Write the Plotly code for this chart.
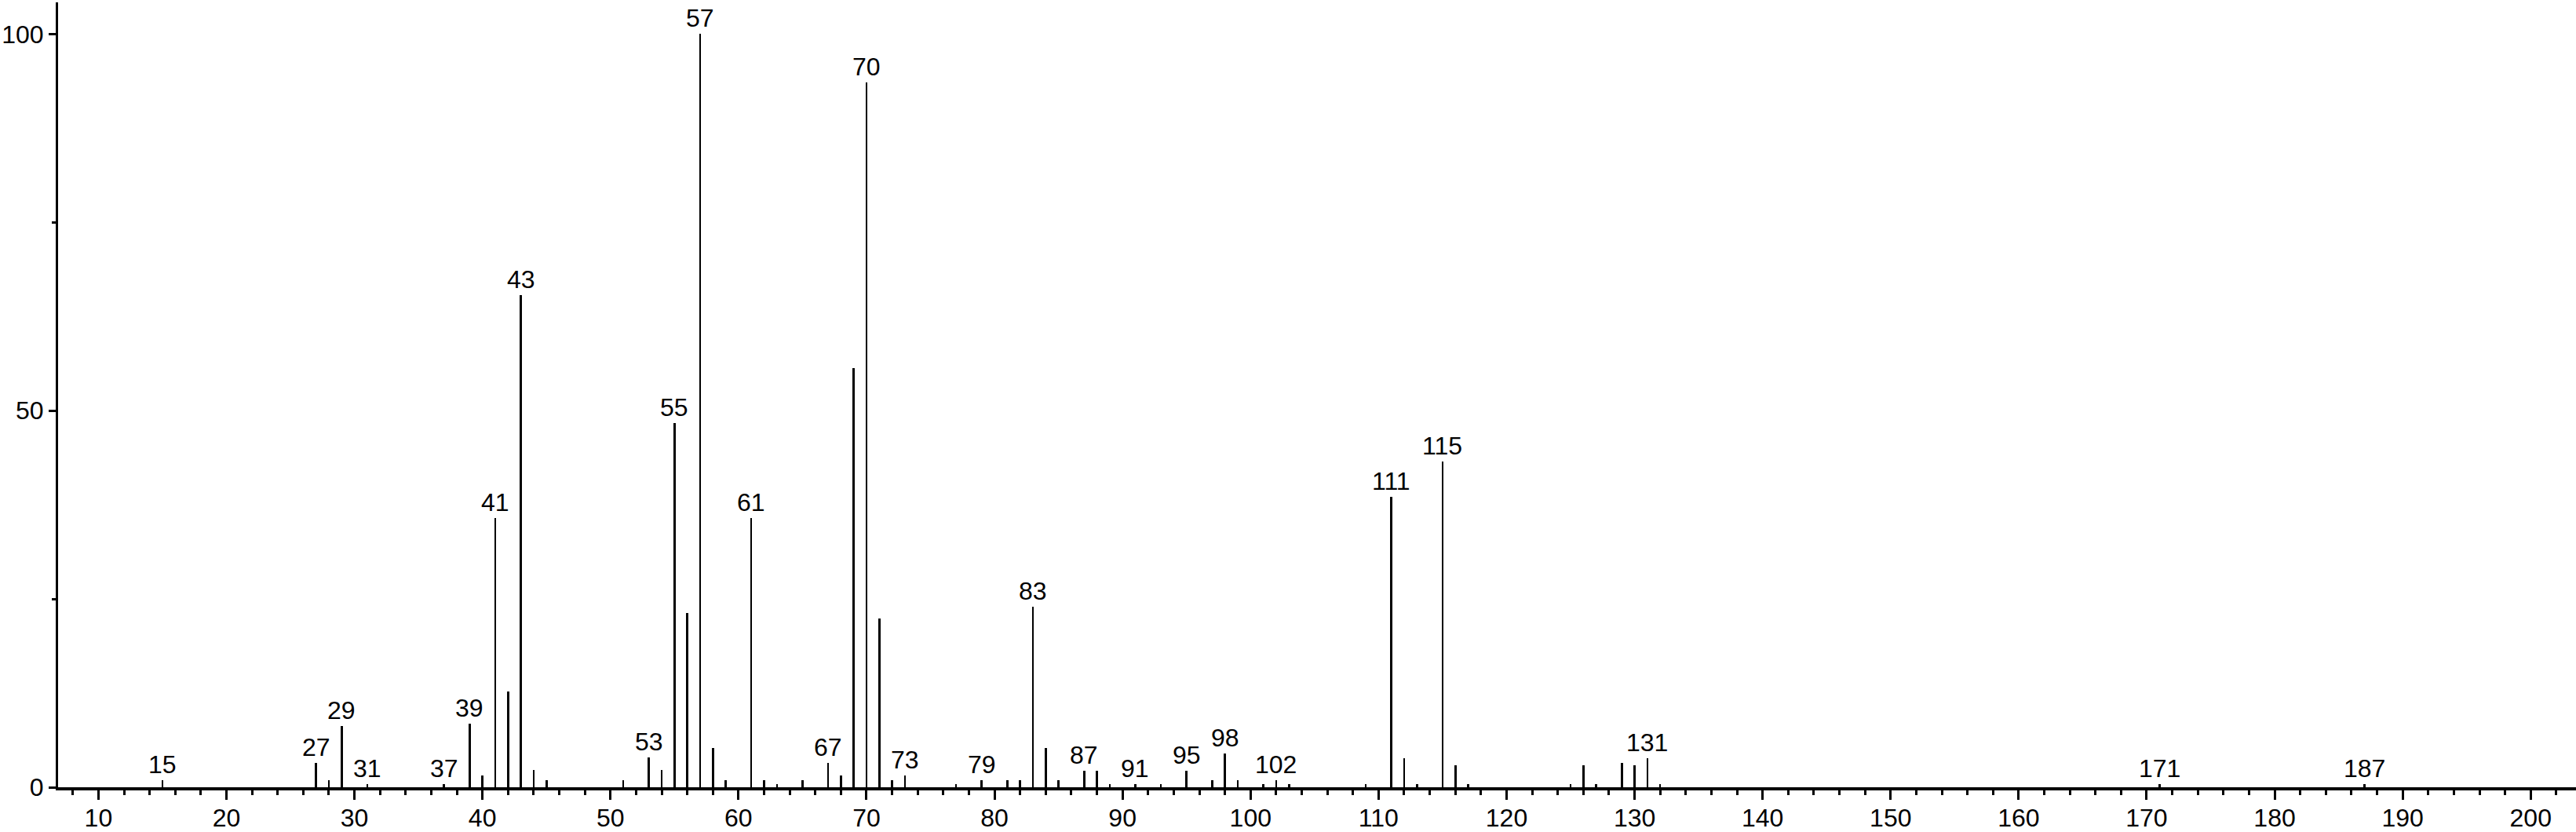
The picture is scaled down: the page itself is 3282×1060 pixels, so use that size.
import plotly.graph_objects as go

# m/z values and relative intensities (%)
mz = [15, 27, 28, 29, 31, 37, 39, 40, 41, 42, 43, 44, 45, 51, 53, 54, 55, 56, 57, 58,
      59, 61, 62, 63, 65, 67, 68, 69, 70, 71, 72, 73, 77, 79, 81, 82, 83, 84, 85, 87,
      88, 89, 91, 93, 95, 97, 98, 99, 101, 102, 103, 109, 111, 112, 113, 115, 116, 117,
      125, 126, 127, 129, 130, 131, 132, 171, 187]
intensity = [0.9, 3.2, 0.9, 8.1, 0.4, 0.4, 8.4, 1.6, 35.7, 12.7, 65.3, 2.3, 0.9, 0.9, 4.0, 2.3, 48.4, 23.1, 100, 5.2,
             0.9, 35.7, 0.9, 0.4, 0.9, 3.2, 1.6, 55.6, 93.6, 22.4, 0.9, 1.6, 0.4, 0.9, 0.9, 0.9, 24.0, 5.2, 0.9, 2.2,
             2.2, 0.4, 0.4, 0.4, 2.2, 0.9, 4.5, 0.9, 0.4, 0.9, 0.4, 0.4, 38.6, 3.9, 0.4, 43.2, 2.9, 0.4,
             0.4, 2.9, 0.4, 3.2, 2.9, 3.9, 0.4, 0.4, 0.4]

# peaks that carry a label
labeled = [15, 27, 29, 31, 37, 39, 41, 43, 53, 55, 57, 61, 67, 70, 73, 79, 83, 87, 91,
           95, 98, 102, 111, 115, 131, 171, 187]

y_ticks = [0, 50, 100]
y_minor = [25, 75]

FONT = "Liberation Sans, Arial, Helvetica, sans-serif"
FS = 32

fig = go.Figure(
    go.Bar(
        x=mz,
        y=intensity,
        width=0.16,
        marker=dict(color="black", line=dict(width=0)),
        hoverinfo="x+y",
    )
)

peak = dict(zip(mz, intensity))
for m in labeled:
    fig.add_annotation(
        x=m, y=peak[m], text=str(m),
        showarrow=False, yanchor="bottom", xanchor="center",
        yshift=0, font=dict(size=FS, color="black", family=FONT),
    )

fig.update_layout(
    width=3282, height=1060,
    margin=dict(l=74, r=0, t=3, b=57, autoexpand=False),
    paper_bgcolor="white", plot_bgcolor="white",
    showlegend=False,
    font=dict(family=FONT, size=FS, color="black"),
    bargap=0,
)
fig.update_xaxes(
    range=[6.85, 203.54],
    tick0=0, dtick=10,
    ticks="outside", ticklen=12, tickwidth=3, tickcolor="black",
    minor=dict(dtick=2, tick0=0, ticks="outside", ticklen=6, tickwidth=3, tickcolor="black"),
    showline=True, linewidth=4, linecolor="black",
    showgrid=False, zeroline=False, automargin=False,
    tickfont=dict(size=FS, family=FONT),
    ticklabelstandoff=-4,
)
fig.update_yaxes(
    range=[0, 104.2],
    tickvals=y_ticks,
    ticks="outside", ticklen=9, tickwidth=3, tickcolor="black",
    minor=dict(tickvals=y_minor, ticks="outside", ticklen=5, tickwidth=3, tickcolor="black"),
    showline=True, linewidth=3, linecolor="black",
    showgrid=False, zeroline=False, automargin=False,
    tickfont=dict(size=FS, family=FONT),
    ticklabelstandoff=0,
)

# page body has an 8px default margin; drop it so the figure sits flush
fig.write_html(
    "out.html",
    config={"displayModeBar": False},
    post_script="document.body.style.margin='0';document.body.style.overflow='hidden';",
)
